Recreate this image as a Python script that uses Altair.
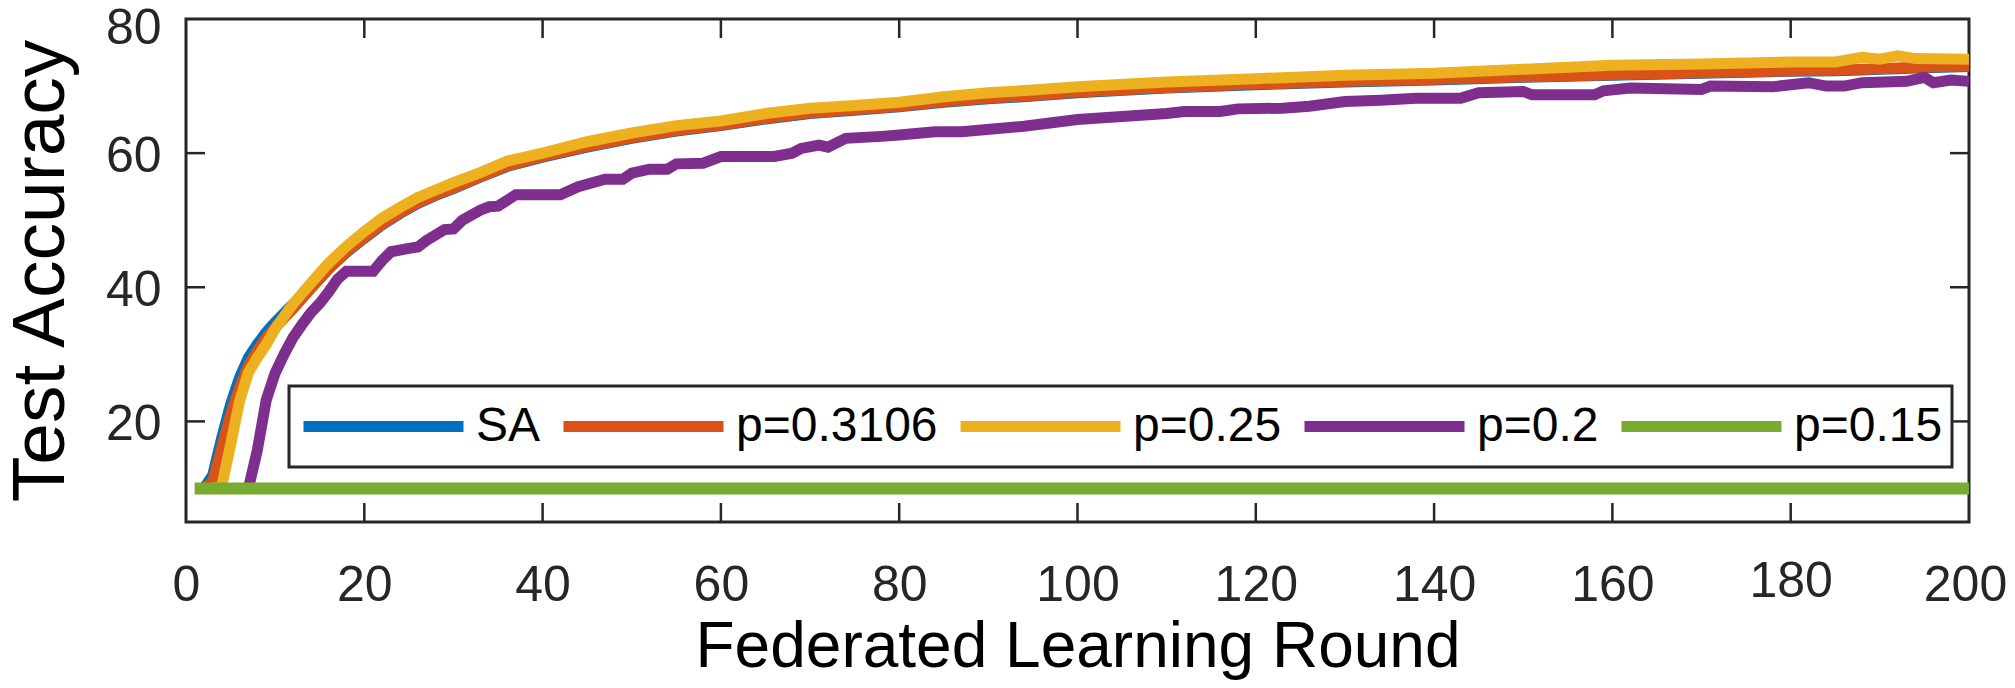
import altair as alt
import pandas as pd

# ---------------- data ----------------
rounds = [1, 2, 3, 4, 5, 6, 7, 8, 9, 10, 12, 14, 16, 18, 20, 22, 24, 26, 28, 30,
          33, 36, 40, 45, 50, 55, 60, 65, 70, 75, 80, 85, 90, 95, 100, 110, 120,
          130, 140, 150, 160, 170, 180, 185, 188, 190, 192, 194, 200]
sa = [10, 10, 12, 17.5, 22.5, 26.5, 29.5, 31.5, 33.3, 34.8, 37.5, 40.1, 42.8, 45.2,
      47.3, 49.3, 51.0, 52.5, 53.7, 54.7, 56.4, 58.0, 59.4, 60.9, 62.2, 63.3, 64.1,
      65.1, 65.9, 66.4, 66.9, 67.6, 68.1, 68.5, 69.0, 69.7, 70.2, 70.6, 70.9, 71.3,
      71.6, 71.9, 72.2, 72.3, 72.4, 72.5, 72.6, 72.7, 72.9]
p3106 = [10, 10, 11, 16, 21, 25, 28.3, 30.5, 32.5, 34, 36.8, 39.8, 42.7, 45.3, 47.4,
         49.4, 51.1, 52.6, 53.8, 54.8, 56.5, 58.1, 59.5, 61.0, 62.3, 63.4, 64.2, 65.2,
         66.0, 66.5, 67.0, 67.7, 68.2, 68.6, 69.1, 69.8, 70.3, 70.7, 71.0, 71.4, 71.7,
         72.0, 72.3, 72.4, 72.5, 72.6, 72.7, 72.8, 73.0]
p25 = [10, 10, 10, 10.3, 16.5, 23, 27.3, 29.5, 31.5, 33.8, 37.5, 40.6, 43.6, 46.1,
       48.3, 50.3, 51.9, 53.4, 54.5, 55.6, 57.1, 58.8, 60.0, 61.7, 63.0, 64.1, 64.8,
       65.9, 66.7, 67.1, 67.6, 68.4, 69.0, 69.4, 69.9, 70.6, 71.1, 71.6, 71.9, 72.5,
       73.1, 73.3, 73.6, 73.6, 74.3, 74.0, 74.5, 74.1, 74.0]
p2_rounds = [1, 7, 8, 9, 10, 11, 12, 13, 14, 15, 16, 17, 18, 21, 22, 23, 25, 26, 27, 29,
             30, 31, 33, 34, 35, 37, 42, 44, 47, 49, 50, 52, 54, 55, 58, 60, 66, 68, 69,
             71, 72, 74, 78, 80, 84, 87, 94, 100, 110, 112, 116, 118, 123, 126, 130,
             134, 138, 143, 145, 150, 151, 158, 159, 162, 170, 171, 178, 182, 184, 186,
             188, 193, 195, 196, 198, 200]
p2 = [10, 10, 15.7, 23.2, 27.2, 30, 32.5, 34.4, 36.2, 37.6, 39.3, 41.2, 42.4, 42.4, 44,
      45.3, 45.8, 46, 47, 48.6, 48.7, 50, 51.5, 52, 52.1, 53.8, 53.8, 55, 56.1, 56.1,
      57, 57.6, 57.6, 58.4, 58.5, 59.5, 59.5, 60, 60.7, 61.2, 60.9, 62.2, 62.5, 62.7,
      63.2, 63.2, 64, 65, 65.9, 66.2, 66.2, 66.6, 66.7, 67, 67.7, 67.9, 68.2, 68.2, 69,
      69.2, 68.7, 68.7, 69.3, 69.7, 69.5, 70, 69.9, 70.5, 70, 70, 70.5, 70.7, 71.3,
      70.5, 70.9, 70.7]
p15_rounds = [1, 200]
p15 = [10, 10]

series_names = ["SA", "p=0.3106", "p=0.25", "p=0.2", "p=0.15"]
colors = ["#0072BD", "#D95319", "#EDB120", "#7E2F8E", "#77AC30"]
x_ticks = [0, 20, 40, 60, 80, 100, 120, 140, 160, 180, 200]
y_ticks = [20, 40, 60, 80]
x_inner_ticks = [20, 40, 60, 80, 100, 120, 140, 160, 180]
y_inner_ticks = [20, 40, 60]

# ---------------- layout / style ----------------
W, H = 1783, 503
TICK = 19
AX = "#262626"
FONT = "Liberation Sans"

frames = []
for name, xs, ys in [("SA", rounds, sa), ("p=0.3106", rounds, p3106),
                     ("p=0.25", rounds, p25), ("p=0.2", p2_rounds, p2),
                     ("p=0.15", p15_rounds, p15)]:
    frames.append(pd.DataFrame({"round": xs, "acc": ys, "series": name}))
df = pd.concat(frames, ignore_index=True)

xscale = alt.Scale(domain=[0, 200], nice=False, zero=False)
yscale = alt.Scale(domain=[5, 80], nice=False, zero=False)

legend = alt.Legend(
    title=None, orient="none", legendX=103, legendY=367,
    direction="horizontal", columns=5,
    symbolType="stroke", symbolSize=25600, symbolStrokeWidth=11,
    clipHeight=63, labelFont=FONT, labelFontSize=48, labelColor="black",
    labelLimit=600, labelOffset=7, columnPadding=17, padding=9,
    strokeColor=AX, fillColor="white",
)
color = alt.Color("series:N", scale=alt.Scale(domain=series_names, range=colors),
                  legend=legend)

x_axis = alt.Axis(values=x_ticks, title="Federated Learning Round", domain=False,
                  grid=False, ticks=False,
                  labelPadding={"condition": {"test": "datum.value == 180", "value": 74},
                                "value": 78},
                  labelOffset={"condition": {"test": "datum.value == 200", "value": -4},
                               "value": 0},
                  labelBaseline="alphabetic", labelFlush=False,
                  labelOverlap=False, labelFont=FONT, labelFontSize=50,
                  labelColor=AX, titleFont=FONT, titleFontSize=64,
                  titleFontWeight="normal", titleColor="black",
                  titleBaseline="alphabetic", titleX=W / 2, titleY=144)
y_axis = alt.Axis(values=y_ticks, title="Test Accuracy", domain=False, grid=False,
                  ticks=False, labelPadding=25,
                  labelOffset={"condition": {"test": "datum.value == 80", "value": 9},
                               "value": 3},
                  labelFlush=False, labelOverlap=False, labelFont=FONT,
                  labelFontSize=50, labelColor=AX, titleFont=FONT, titleFontSize=75,
                  titleFontWeight="normal", titleColor="black",
                  titleBaseline="alphabetic", titleX=-123, titleY=H / 2,
                  titleAngle=270, titleAlign="center")

layers = []
widths = {"SA": 11, "p=0.3106": 11, "p=0.25": 11, "p=0.2": 11, "p=0.15": 12}
for name in series_names:
    layers.append(
        alt.Chart(df).transform_filter(alt.datum.series == name)
        .mark_line(strokeWidth=widths[name])
        .encode(
            x=alt.X("round:Q", scale=xscale, axis=x_axis),
            y=alt.Y("acc:Q", scale=yscale, axis=y_axis),
            color=color,
        )
    )

xt = pd.DataFrame({"v": x_inner_ticks})
yt = pd.DataFrame({"v": y_inner_ticks})
rule = dict(color=AX, strokeWidth=2.5)
layers.append(alt.Chart(xt).mark_rule(**rule).encode(
    x=alt.X("v:Q", scale=xscale, axis=x_axis), y=alt.value(H - TICK), y2=alt.value(H)))
layers.append(alt.Chart(xt).mark_rule(**rule).encode(
    x=alt.X("v:Q", scale=xscale, axis=x_axis), y=alt.value(0), y2=alt.value(TICK)))
layers.append(alt.Chart(yt).mark_rule(**rule).encode(
    y=alt.Y("v:Q", scale=yscale, axis=y_axis), x=alt.value(0), x2=alt.value(TICK)))
layers.append(alt.Chart(yt).mark_rule(**rule).encode(
    y=alt.Y("v:Q", scale=yscale, axis=y_axis), x=alt.value(W - TICK), x2=alt.value(W)))

chart = alt.layer(*layers).properties(
    width=W, height=H,
    autosize=alt.AutoSizeParams(type="none"),
    padding={"left": 178, "top": 11, "right": 38, "bottom": 158},
    background="white",
).configure_view(stroke=AX, strokeWidth=3).configure_legend(strokeWidth=3)

chart.save("out.html", embed_options={"renderer": "svg", "actions": False})
